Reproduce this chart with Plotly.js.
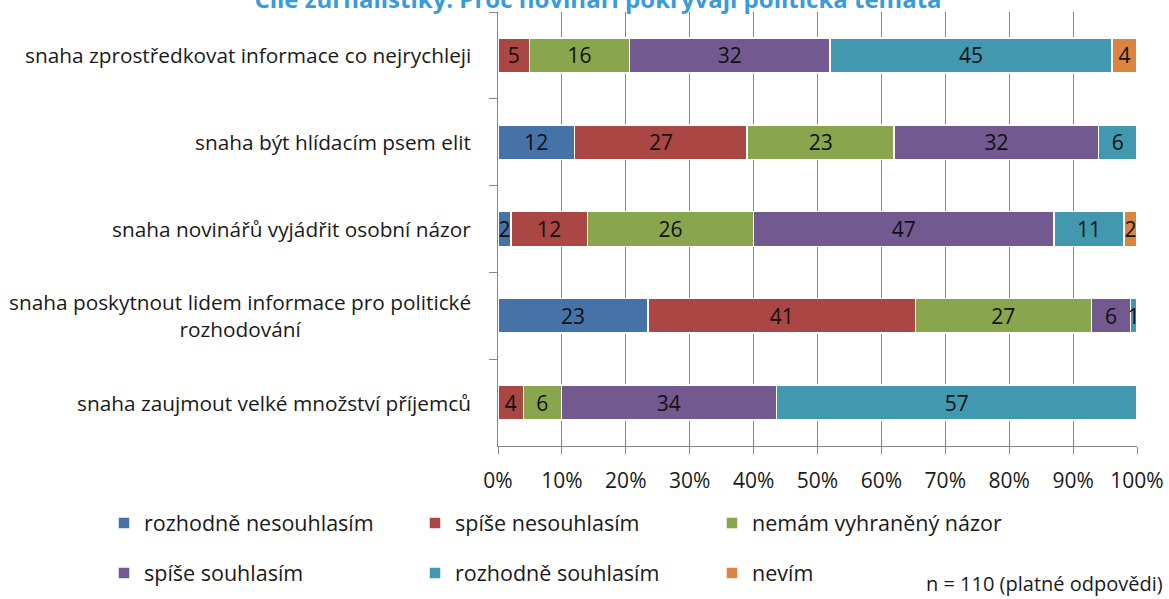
<!DOCTYPE html>
<html>
<head>
<meta charset="utf-8">
<script src="https://cdn.plot.ly/plotly-3.0.1.min.js"></script>
<style>html,body{margin:0;padding:0;background:#fff;}#chart{width:1169px;height:599px;}</style>
</head>
<body>
<div id="chart"></div>
<script>
const titleText = "Cíle žurnalistiky: Proč novináři pokrývají politická témata";
const categories = [
  "snaha zprostředkovat informace co nejrychleji",
  "snaha být hlídacím psem elit",
  "snaha novinářů vyjádřit osobní názor",
  "snaha poskytnout lidem informace pro politické<br>rozhodování",
  "snaha zaujmout velké množství příjemců"
];
const seriesNames = ["rozhodně nesouhlasím","spíše nesouhlasím","nemám vyhraněný názor","spíše souhlasím","rozhodně souhlasím","nevím"];
const rozhodneNesouhlasim = [null, 12, 2, 23, null];
const spiseNesouhlasim   = [5, 27, 12, 41, 4];
const nemamNazor         = [16, 23, 26, 27, 6];
const spiseSouhlasim     = [32, 32, 47, 6, 34];
const rozhodneSouhlasim  = [45, 6, 11, 1, 57];
const nevim              = [4, null, 2, null, null];
const seriesValues = [rozhodneNesouhlasim, spiseNesouhlasim, nemamNazor, spiseSouhlasim, rozhodneSouhlasim, nevim];
const colors = ["#4573A8","#AA4644","#89A54E","#725990","#4298AF","#DB843D"];
const xTicks = [0,10,20,30,40,50,60,70,80,90,100];
const noteText = "n = 110 (platné odpovědi)";

const FONT = "Open Sans, Liberation Sans, sans-serif";
const legendIds = ["legend","legend2","legend3","legend4","legend5","legend6"];
const legendPos = [[104,523],[415,523],[712,523],[104,573],[415,573],[712,573]];

const traces = seriesNames.map((name, i) => ({
  type: "bar",
  orientation: "h",
  name: name,
  y: categories,
  x: seriesValues[i],
  text: seriesValues[i].map(v => v == null ? "" : String(v)),
  textposition: "inside",
  insidetextanchor: "middle",
  textangle: 0,
  constraintext: "none",
  insidetextfont: {family: FONT, size: 21, color: "#111"},
  marker: {color: colors[i], line: {color: "#ffffff", width: 1.5}},
  hoverinfo: "name+x",
  legend: legendIds[i]
}));

const layout = {
  width: 1169, height: 599,
  margin: {l: 498, r: 32, t: 12, b: 153},
  paper_bgcolor: "#ffffff", plot_bgcolor: "#ffffff",
  barmode: "stack", barnorm: "percent", bargap: 0.6,
  font: {family: FONT, size: 18, color: "#1a1a1a"},
  title: {text: titleText, x: 598 / 1169, xanchor: "center", xref: "container", y: 1.0, yanchor: "middle", yref: "container",
          font: {family: FONT, size: 24, color: "#3B9AD8", weight: "bold"}},
  xaxis: {range: [0, 100], tickvals: xTicks, ticktext: xTicks.map(v => v + "%"),
          showgrid: true, gridcolor: "#868686", gridwidth: 1, zeroline: false,
          showline: true, linecolor: "#868686", ticks: "outside", ticklen: 7, tickcolor: "#868686",
          tickfont: {family: FONT, size: 21, color: "#1a1a1a"}, ticklabelstandoff: 9, fixedrange: true},
  yaxis: {type: "category", autorange: "reversed", showline: true, linecolor: "#868686",
          ticks: "outside", ticklen: 8, tickcolor: "#868686", tickson: "boundaries",
          showticklabels: false, showgrid: false, fixedrange: true},
  annotations: categories.map(c => ({
    text: c, xref: "paper", yref: "y", x: 0, y: c, xanchor: "right", yanchor: "middle",
    xshift: -25, align: "center", showarrow: false, font: {family: FONT, size: 20.8, color: "#1a1a1a"}
  })).concat([{
    text: noteText, xref: "paper", yref: "paper", x: 1, y: 0, xshift: 28, yshift: -137,
    xanchor: "right", yanchor: "middle", showarrow: false, font: {family: FONT, size: 20, color: "#1a1a1a"}
  }]),
  showlegend: true
};
legendIds.forEach((id, i) => {
  layout[id] = {x: legendPos[i][0] / 1169, y: 1 - legendPos[i][1] / 599, xref: "container", yref: "container",
                xanchor: "left", yanchor: "middle", orientation: "h", bgcolor: "rgba(0,0,0,0)",
                font: {family: FONT, size: 21.5, color: "#1a1a1a"}, traceorder: "normal"};
});

Plotly.newPlot("chart", traces, layout, {displayModeBar: false, staticPlot: true});
</script>
</body>
</html>
